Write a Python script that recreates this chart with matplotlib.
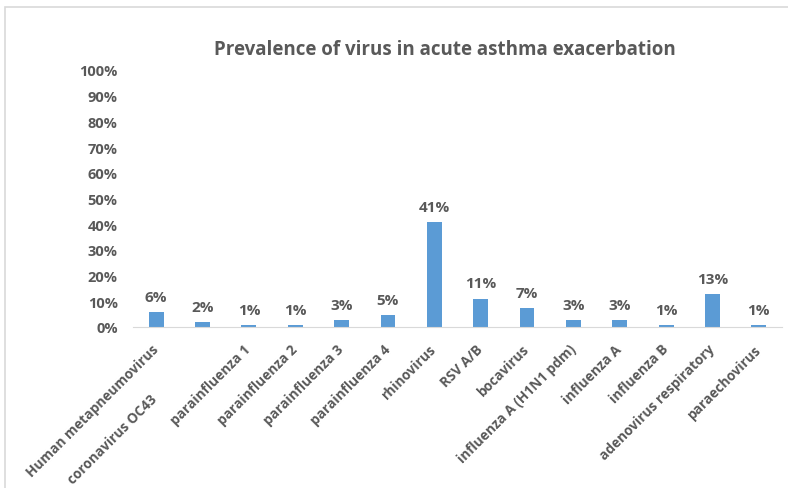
import numpy as np
import matplotlib
matplotlib.use('Agg')
import matplotlib.pyplot as plt
import matplotlib.transforms as mtransforms
from matplotlib.patches import Rectangle

# virus categories and prevalence (%)
viruses = ['Human metapneumovirus', 'coronavirus OC43', 'parainfluenza 1',
           'parainfluenza 2', 'parainfluenza 3', 'parainfluenza 4',
           'rhinovirus', 'RSV A/B', 'bocavirus', 'influenza A (H1N1 pdm)',
           'influenza A', 'influenza B', 'adenovirus respiratory',
           'paraechovirus']
prevalence = [5.8, 1.8, 0.8, 0.8, 2.7, 4.7, 40.8, 11.0, 7.3, 2.7, 2.7, 0.8,
              12.9, 0.8]
yticks = list(range(0, 101, 10))

grey = '#595959'
blue = '#5B9BD5'
plt.rcParams['font.family'] = ['Open Sans', 'DejaVu Sans']

fig = plt.figure(figsize=(7.88, 4.89), dpi=100)
W, H = 788, 489
ax = fig.add_axes([133 / W, 1 - 328 / H, (782 - 133) / W, (328 - 71) / H])

x = np.arange(len(viruses))
ax.bar(x, prevalence, width=0.32, color=blue, zorder=2)
for xi, v in zip(x, prevalence):
    ax.annotate('%d%%' % round(v), (xi, v), xytext=(0, 6),
                textcoords='offset points', ha='center', va='bottom',
                fontsize=11, fontweight='bold', color=grey)

ax.set_xlim(-0.5, len(viruses) - 0.5)
ax.set_ylim(0, 100)
ax.set_yticks(yticks)
ax.set_yticklabels(['%d%%' % t for t in yticks], fontsize=10.5,
                   fontweight='bold', color=grey)
ax.set_xticks(x)
ax.set_xticklabels(viruses, rotation=45, ha='right', va='center',
                   rotation_mode='anchor', fontsize=9.8, fontweight='bold',
                   color=grey)
ax.tick_params(axis='both', length=0)
ax.tick_params(axis='x', pad=14)
ax.tick_params(axis='y', pad=11)
for side in ['top', 'right', 'left']:
    ax.spines[side].set_visible(False)
ax.spines['bottom'].set_color('#d9d9d9')

# the second label sits lower, slid back along its own slant
lbl = ax.get_xticklabels()[1]
lbl.set_transform(lbl.get_transform() +
                  mtransforms.ScaledTranslation(-48 / 100, -50 / 100,
                                                fig.dpi_scale_trans))

fig.text(445 / W, 1 - 50 / H, 'Prevalence of virus in acute asthma exacerbation',
         ha='center', va='center', fontsize=13.5, fontweight='bold', color=grey)

# chart frame, clipped on the right and bottom
fig.patches.append(Rectangle((5 / W, -0.1), 1.1, 1 - 8 / H + 0.1,
                             transform=fig.transFigure, fill=False,
                             edgecolor='#d9d9d9', linewidth=1.2))

fig.savefig('out.png', dpi=100)
